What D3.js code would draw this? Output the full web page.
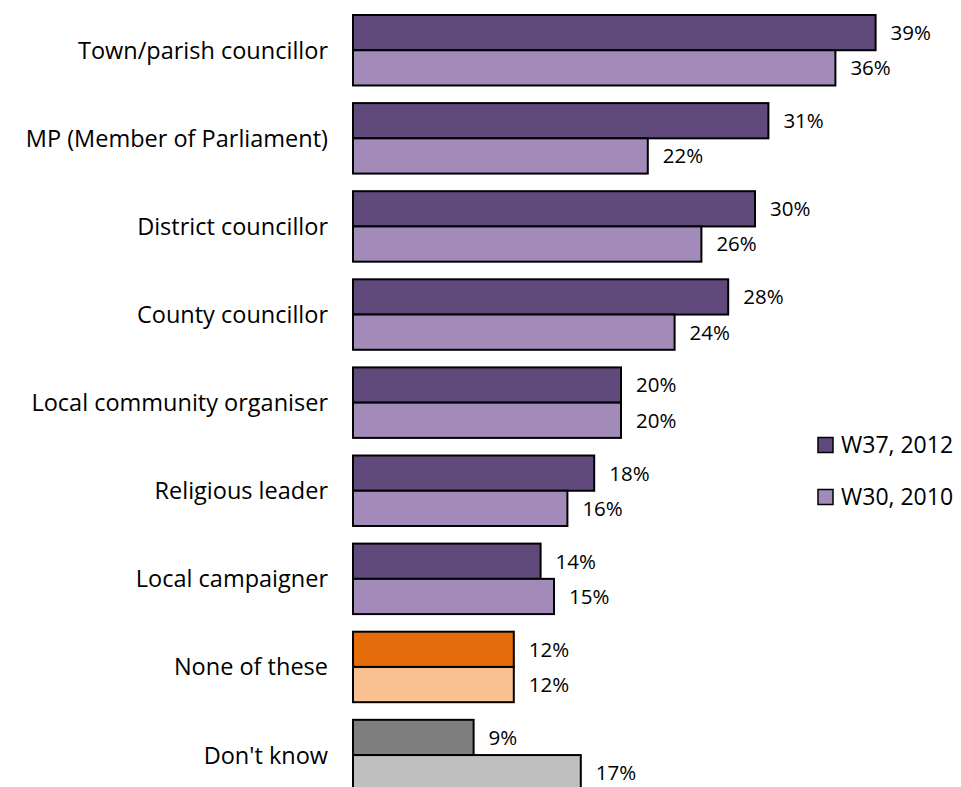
<!DOCTYPE html>
<html>
<head>
<meta charset="utf-8">
<script src="https://cdn.jsdelivr.net/npm/d3@7"></script>
<style>
  html, body { margin: 0; padding: 0; background: #fff; }
  svg { display: block; }
  text { font-family: "Open Sans", Lato, sans-serif; fill: #000; }
</style>
</head>
<body>
<svg id="chart" width="961" height="787"></svg>
<script>
// Share naming each contact, two survey waves
const categories = [
  "Town/parish councillor",
  "MP (Member of Parliament)",
  "District councillor",
  "County councillor",
  "Local community organiser",
  "Religious leader",
  "Local campaigner",
  "None of these",
  "Don't know"
];
const seriesNames = ["W37, 2012", "W30, 2010"];
const w37_2012 = [39, 31, 30, 28, 20, 18, 14, 12, 9];
const w30_2010 = [36, 22, 26, 24, 20, 16, 15, 12, 17];

// fill per category group: [2012, 2010]
const purple = ["#604a7b", "#a28bb9"];
const orange = ["#e46c0a", "#f9c091"];
const grey = ["#7f7f7f", "#bfbfbf"];
const fills = categories.map((c, i) => i === 7 ? orange : i === 8 ? grey : purple);

const svg = d3.select("#chart");

const x = d3.scaleLinear().domain([0, 40]).range([353, 889]);
const y = d3.scaleBand().domain(categories).range([15, 790.3]).paddingInner(0.2).paddingOuter(0);
const sub = d3.scaleBand().domain([0, 1]).range([0, y.bandwidth()]);

const rows = categories.map((c, i) => ({ cat: c, vals: [w37_2012[i], w30_2010[i]], fill: fills[i] }));

const g = svg.selectAll("g.row").data(rows).join("g")
  .attr("class", "row")
  .attr("transform", d => `translate(0,${y(d.cat)})`);

g.selectAll("rect").data(d => d.vals.map((v, k) => ({ v, k, fill: d.fill[k] })))
  .join("rect")
  .attr("x", x(0))
  .attr("y", d => sub(d.k))
  .attr("width", d => x(d.v) - x(0))
  .attr("height", sub.bandwidth())
  .attr("fill", d => d.fill)
  .attr("stroke", "#000")
  .attr("stroke-width", 2);

g.selectAll("text.val").data(d => d.vals.map((v, k) => ({ v, k })))
  .join("text")
  .attr("class", "val")
  .attr("x", d => x(d.v) + 15)
  .attr("y", d => sub(d.k) + sub.bandwidth() / 2)
  .attr("dy", "0.36em")
  .attr("font-size", 20.5)
  .text(d => d.v + "%");

// category axis labels
g.append("text")
  .attr("x", 328)
  .attr("y", y.bandwidth() / 2)
  .attr("dy", "0.36em")
  .attr("text-anchor", "end")
  .attr("font-size", 23.5)
  .text(d => d.cat);

// legend
const legend = svg.append("g").selectAll("g").data(seriesNames).join("g")
  .attr("transform", (d, i) => `translate(818,${445 + i * 52})`);
legend.append("rect")
  .attr("x", 0).attr("y", -7.5).attr("width", 15).attr("height", 15)
  .attr("fill", (d, i) => purple[i])
  .attr("stroke", "#000").attr("stroke-width", 1.5);
legend.append("text")
  .attr("x", 23).attr("y", 0).attr("dy", "0.36em")
  .attr("font-size", 23)
  .text(d => d);
</script>
</body>
</html>
